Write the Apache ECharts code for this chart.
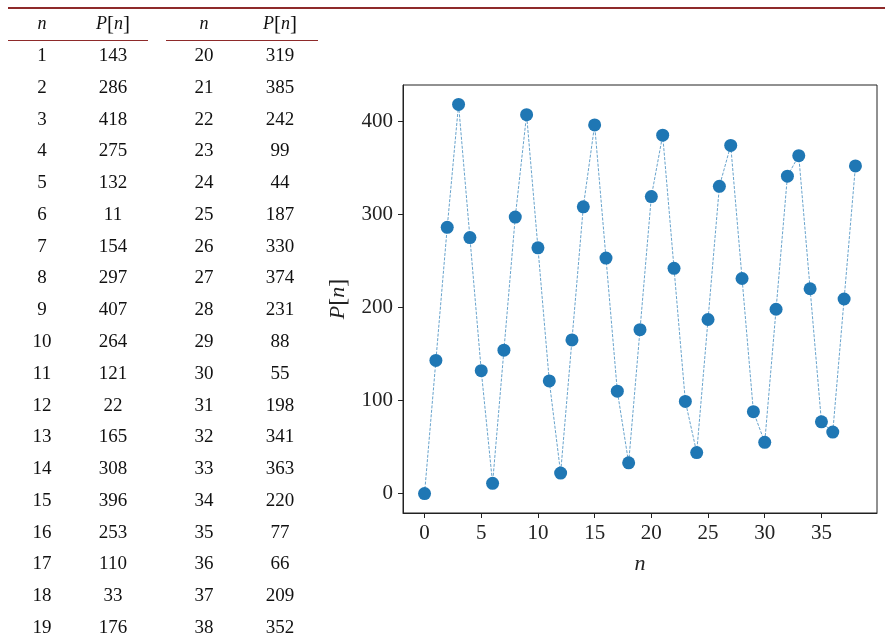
<!DOCTYPE html>
<html>
<head>
<meta charset="utf-8">
<script src="https://cdn.jsdelivr.net/npm/echarts@6/dist/echarts.min.js"></script>
<style>
html,body{margin:0;padding:0;background:#fff;}
#chart{width:885px;height:639px;}
</style>
</head>
<body>
<div id="chart"></div>
<script>
const nValues = [0,1,2,3,4,5,6,7,8,9,10,11,12,13,14,15,16,17,18,19,20,21,22,23,24,25,26,27,28,29,30,31,32,33,34,35,36,37,38];
const pValues = [0,143,286,418,275,132,11,154,297,407,264,121,22,165,308,396,253,110,33,176,319,385,242,99,44,187,330,374,231,88,55,198,341,363,220,77,66,209,352];
const xTicks = [0,5,10,15,20,25,30,35];
const yTicks = [0,100,200,300,400];

const chart = echarts.init(document.getElementById('chart'), null, {renderer:'canvas'});
const serif = '"Liberation Serif", "DejaVu Serif", serif';
const red = '#8e2a2a';

// table built from the arrays (rows n=1..38)
const graphics = [];
graphics.push({type:'line', shape:{x1:8,y1:8,x2:885,y2:8}, style:{stroke:red, lineWidth:2}});
graphics.push({type:'line', shape:{x1:8,y1:40.5,x2:148,y2:40.5}, style:{stroke:red, lineWidth:1}});
graphics.push({type:'line', shape:{x1:166,y1:40.5,x2:318,y2:40.5}, style:{stroke:red, lineWidth:1}});
const colX = [[42,113],[204,280]];
function headerText(x, txt) {
  return {type:'text', x:x, y:24, style:{text:txt, fontFamily:serif, fontSize:18, fill:'#111', align:'center', verticalAlign:'middle', rich:{
    i:{fontStyle:'italic', fontFamily:serif, fontSize:18}, b:{fontFamily:serif, fontSize:21}
  }}};
}
for (let g = 0; g < 2; g++) {
  graphics.push(headerText(colX[g][0], '{i|n}'));
  graphics.push(headerText(colX[g][1], '{i|P}{b|[}{i|n}{b|]}'));
}
const rowsPerCol = 19;
for (let k = 1; k < nValues.length; k++) {
  const g = Math.floor((k - 1) / rowsPerCol);
  const r = (k - 1) % rowsPerCol;
  const y = 56 + r * 31.78;
  graphics.push({type:'text', x:colX[g][0], y:y, style:{text:String(nValues[k]), fontFamily:serif, fontSize:19, fill:'#111', align:'center', verticalAlign:'middle'}});
  graphics.push({type:'text', x:colX[g][1], y:y, style:{text:String(pValues[k]), fontFamily:serif, fontSize:19, fill:'#111', align:'center', verticalAlign:'middle'}});
}

const data = nValues.map((n, i) => [n, pValues[i]]);

chart.setOption({
  animation:false,
  backgroundColor:'#fff',
  grid:{left:403, top:85, width:474, height:428, show:true, borderColor:'#222', borderWidth:1, backgroundColor:'transparent'},
  xAxis:{
    type:'value', min:-1.9, max:39.9,
    splitLine:{show:false},
    axisLine:{show:true, onZero:false, lineStyle:{color:'#222', width:1}},
    axisTick:{show:true, customValues:xTicks, length:5, inside:false, lineStyle:{color:'#222'}},
    axisLabel:{customValues:xTicks, fontFamily:serif, fontSize:21, color:'#222', margin:10},
    name:'{i|n}', nameLocation:'middle', nameGap:40,
    nameTextStyle:{rich:{i:{fontStyle:'italic', fontFamily:serif, fontSize:22, color:'#222'}}}
  },
  yAxis:{
    type:'value', min:-20.9, max:438.9,
    splitLine:{show:false},
    axisLine:{show:true, onZero:false, lineStyle:{color:'#222', width:1}},
    axisTick:{show:true, customValues:yTicks, length:5, inside:false, lineStyle:{color:'#222'}},
    axisLabel:{customValues:yTicks, fontFamily:serif, fontSize:21, color:'#222', margin:10},
    name:'{i|P}{b|[}{i|n}{b|]}', nameLocation:'middle', nameGap:52, nameRotate:90,
    nameTextStyle:{rich:{i:{fontStyle:'italic', fontFamily:serif, fontSize:22, color:'#222'}, b:{fontFamily:serif, fontSize:24, color:'#222'}}}
  },
  series:[{
    type:'line',
    data:data,
    symbol:'circle',
    symbolSize:13,
    itemStyle:{color:'#1f77b4'},
    lineStyle:{color:'#1f77b4', width:0.8, type:[3,1.5], opacity:0.85},
    z:3
  }],
  graphic:graphics
});
</script>
</body>
</html>
